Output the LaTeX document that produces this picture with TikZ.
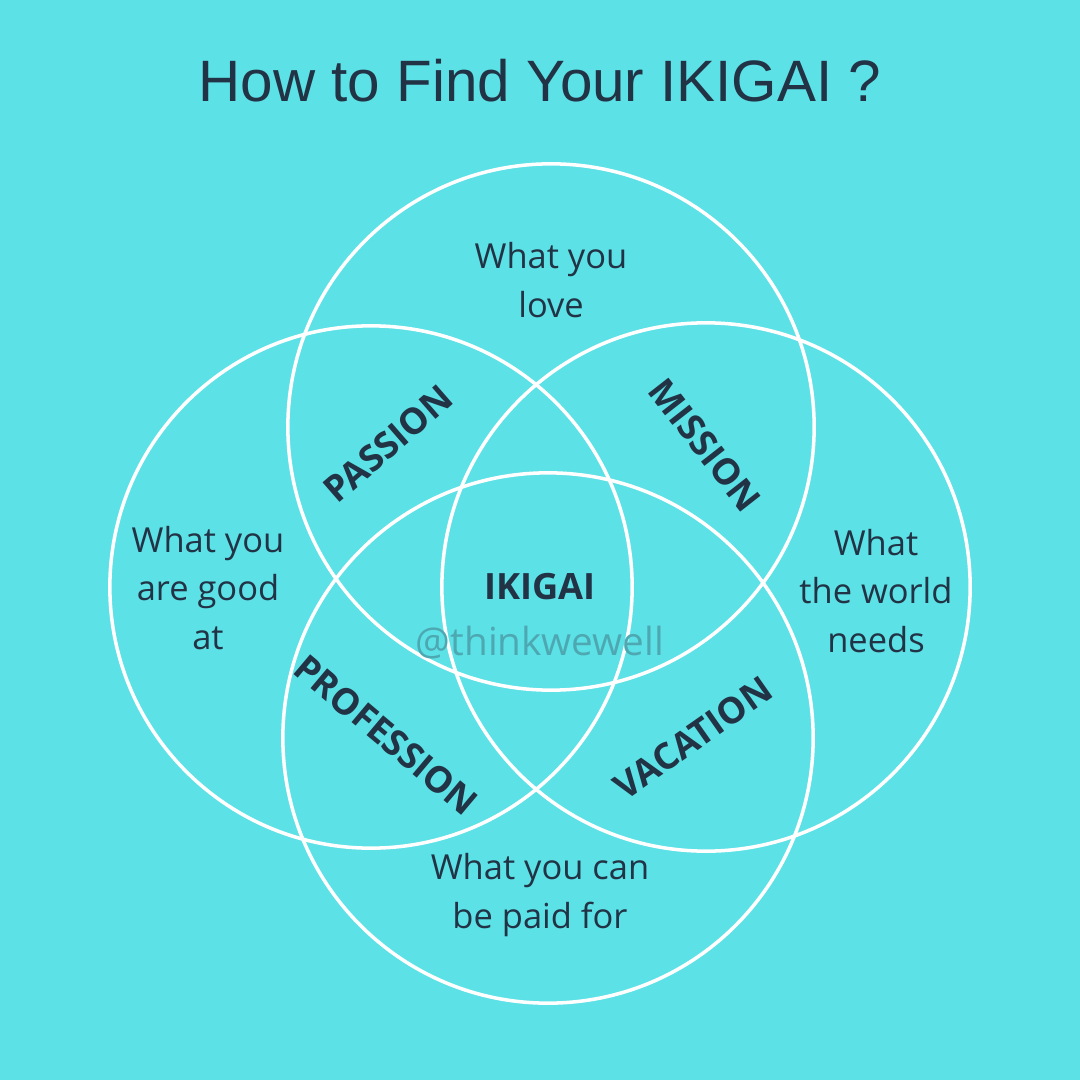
\documentclass[tikz,border=0pt]{standalone}
\usepackage{fontspec}
\setmainfont{Open Sans}
\newfontfamily\titlefont{Liberation Sans}
\usepackage{tikz}
\usepackage{xcolor}
\usetikzlibrary{positioning}
\definecolor{turq}{RGB}{92,225,230}
\definecolor{ink}{RGB}{33,51,69}
\definecolor{mark}{RGB}{78,168,178}

\begin{document}
\begin{tikzpicture}[x=0.01cm, y=-0.01cm,
    ring/.style={draw=white, line width=1pt},
    area/.style={font=\fontsize{9.8}{13.7}\selectfont, text=ink, align=center},
    word/.style={font=\fontsize{10.3}{12}\selectfont\bfseries, text=ink}]
        % background
        \fill[turq] (0,0) rectangle (1080,1080);
        \useasboundingbox (0,0) rectangle (1080,1080);
        % title
        \node[text=ink, font=\titlefont\fontsize{16.6}{19}\selectfont] (title) at (540,81) {How to Find Your IKIGAI ?};
        % the four circles
        \draw[ring] (551,427) circle (2.63cm);
        \draw[ring] (371,587) circle (2.61cm);
        \draw[ring] (706,587) circle (2.64cm);
        \draw[ring] (548,738) circle (2.65cm);
        % outer areas
        \node[area] (love) at (551,280) {What you\\love};
        \node[area] (good) at (208,588) {What you\\are good\\at};
        \node[area] (needs) at (876,591) {What\\the world\\needs};
        \node[area] (paid) at (540,895) {What you can\\be paid for};
        % overlaps
        \node[word, rotate=41] (passion) at (388,444) {PASSION};
        \node[word, rotate=-52] (mission) at (705,445) {MISSION};
        \node[word, rotate=-40] (profession) at (386,735) {PROFESSION};
        \node[word, rotate=35] (vacation) at (693,738) {VACATION};
        \node[word] (ikigai) at (540,587) {IKIGAI};
        % watermark
        \node[text=mark, font=\fontsize{11}{13}\selectfont] (tag) at (540,643) {@thinkwewell};
      \end{tikzpicture}
\end{document}
